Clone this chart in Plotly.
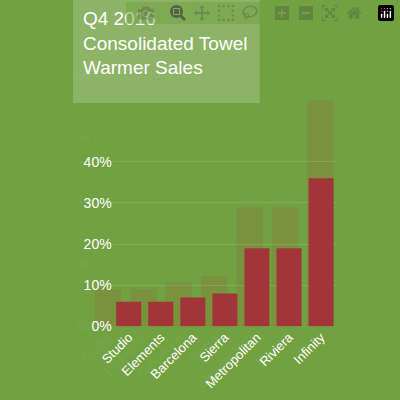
import plotly.graph_objects as go

BG = "#71a141"
BAR = "#a3353a"
categories = ["Studio", "Elements", "Barcelona", "Sierra", "Metropolitan", "Riviera", "Infinity"]
share = [0.06, 0.06, 0.07, 0.08, 0.19, 0.19, 0.36]
tick_vals = [0, 0.1, 0.2, 0.3, 0.4]
tick_text = ["0%", "10%", "20%", "30%", "40%"]

fig = go.Figure()

# faded ghost copy behind the main chart
fig.add_trace(go.Bar(x=categories, y=share, marker={"color": "rgba(170,60,50,0.14)", "line": {"width": 0}},
                     width=0.74, xaxis="x", yaxis="y", showlegend=False, hoverinfo="skip"))
# main bars
fig.add_trace(go.Bar(x=categories, y=share, marker={"color": BAR, "line": {"width": 0}}, width=0.78,
                     xaxis="x2", yaxis="y2", showlegend=False))

fig.update_layout(
    width=400, height=400,
    margin={"l": 0, "r": 0, "t": 0, "b": 0},
    paper_bgcolor=BG, plot_bgcolor="rgba(0,0,0,0)",
    font={"family": "Liberation Sans, Arial, sans-serif", "color": "white"},
    xaxis={"domain": [0.2, 0.84], "tickangle": -45, "showgrid": False,
           "tickfont": {"size": 13, "color": "rgba(255,255,255,0.07)"}},
    yaxis={"domain": [0.1675, 0.9675], "range": [0, 0.5], "tickvals": tick_vals,
           "ticktext": ["%"] * 5, "showgrid": False, "zeroline": False,
           "tickfont": {"size": 14, "color": "rgba(255,255,255,0.08)"}},
    xaxis2={"domain": [0.2575, 0.8375], "anchor": "y2", "tickangle": -45, "showgrid": False,
            "tickfont": {"size": 13, "color": "white"}},
    yaxis2={"domain": [0.1675, 0.6925], "anchor": "x2", "range": [0, 0.5],
            "tickvals": tick_vals, "ticktext": tick_text, "showgrid": True,
            "gridcolor": "rgba(255,255,255,0.12)", "zeroline": False,
            "tickfont": {"size": 14, "color": "white"}},
    shapes=[{"type": "rect", "xref": "paper", "yref": "paper", "x0": 0.155, "x1": 0.6375,
             "y0": 0.7375, "y1": 1.0, "fillcolor": "rgba(255,255,255,0.2)", "line": {"width": 0},
             "layer": "below"}],
    annotations=[{"text": "Q4 2016<br>Consolidated Towel<br>Warmer Sales", "xref": "paper",
                  "yref": "paper", "x": 0.175, "y": 0.985, "xanchor": "left", "yanchor": "top",
                  "align": "left", "showarrow": False,
                  "font": {"size": 19, "color": "white"}}],
)

fig.write_html("out.html", post_script="document.body.style.margin='0';")
